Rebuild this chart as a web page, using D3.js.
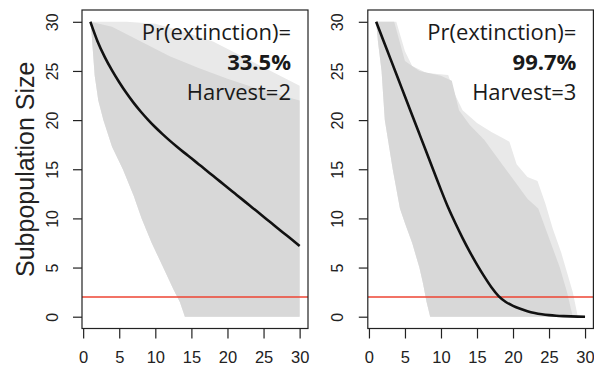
<!DOCTYPE html>
<html>
<head>
<meta charset="utf-8">
<script src="https://cdn.jsdelivr.net/npm/d3@7"></script>
<style>
  body { margin: 0; background: #fff; }
  svg { display: block; }
</style>
</head>
<body>
<div id="chart"></div>
<script>
// time steps of the simulation
const years = [1, 2, 3, 4, 5, 6, 7, 8, 9, 10, 11, 12, 13, 14, 15, 16, 17, 18, 19, 20, 21, 22, 23, 24, 25, 26, 27, 28, 29, 30];

// mean trajectories
const meanHarvest2 = [30, 28.0, 26.4, 25.05, 23.85, 22.75, 21.75, 20.85, 20.03, 19.27, 18.57, 17.91, 17.29, 16.69, 16.11, 15.52, 14.93, 14.33, 13.74, 13.14, 12.55, 11.96, 11.36, 10.77, 10.17, 9.58, 8.98, 8.39, 7.8, 7.2];
const meanHarvest3 = [30, 28.1, 26.2, 24.3, 22.4, 20.5, 18.6, 16.7, 14.8, 12.9, 11.1, 9.5, 8.0, 6.6, 5.3, 4.1, 3.0, 2.1, 1.5, 1.1, 0.8, 0.56, 0.38, 0.25, 0.16, 0.1, 0.06, 0.03, 0.01, 0];

// envelope of the simulated runs (grey cloud), harvest = 2
const outerTopT2 = [1, 6, 10, 14, 18, 22, 26, 30];
const outerTopV2 = [30, 30, 29.8, 29, 28, 26.5, 25, 23.5];
const coreTopT2 = [1, 4, 8, 12, 16, 20, 25, 30];
const coreTopV2 = [30, 29.5, 28, 26.5, 25.3, 24.2, 23, 22];
const bottomT2 = [1, 1.2, 1.6, 2.1, 2.8, 4, 5.5, 7, 8.1, 9.5, 11.1, 12.5, 13.4, 14.1, 30];
const bottomV2 = [30, 28.5, 24.5, 22, 20, 17.3, 15, 12.3, 10, 7.5, 5, 2.8, 1.5, 0, 0];

// envelope of the simulated runs (grey cloud), harvest = 3
const outerTopT3 = [1, 3.8, 5, 6, 8, 11, 12, 13, 15, 17, 18.5, 19.5, 20.5, 22, 23.4, 24.5, 25.5, 26.7, 27.5, 28.3, 29];
const outerTopV3 = [30, 30, 27, 25.5, 24.8, 24.6, 22.5, 21, 19.7, 18.8, 18.2, 17.8, 15.5, 14.2, 13.8, 11.5, 9, 6.5, 4.5, 2.5, 0];
const coreTopT3 = [1, 3.5, 5, 7, 10, 11.5, 12.5, 14, 16, 18, 20, 22, 23.5, 25, 26.5, 27.5, 28.3];
const coreTopV3 = [30, 30, 26, 25, 24.5, 24, 21, 19.5, 18, 16, 14, 12, 11, 8, 5, 2.5, 0];
const bottomT3 = [1, 1.25, 1.75, 2.2, 3.3, 4.3, 5, 6, 7, 7.5, 8, 8.5, 29];
const bottomV3 = [30, 28, 25, 20, 15, 11, 9.5, 7.5, 5, 3.4, 1.5, 0, 0];

const harvests = [2, 3];
const prExtinction = ['33.5%', '99.7%'];
const threshold = 2;
const xTicks = [0, 5, 10, 15, 20, 25, 30];
const yTicks = [0, 5, 10, 15, 20, 25, 30];

const panels = [
  { left: 82, right: 308, mean: meanHarvest2,
    outer: [outerTopT2, outerTopV2], core: [coreTopT2, coreTopV2], bottom: [bottomT2, bottomV2] },
  { left: 367.8, right: 593.4, mean: meanHarvest3,
    outer: [outerTopT3, outerTopV3], core: [coreTopT3, coreTopV3], bottom: [bottomT3, bottomV3] }
];

const W = 594, H = 367;
const plotTop = 10, plotBottom = 328.5;

const svg = d3.select('#chart').append('svg')
  .attr('width', W)
  .attr('height', H);

// y axis title
svg.append('text')
  .attr('transform', `translate(25,${(plotTop + plotBottom) / 2}) rotate(-90)`)
  .attr('text-anchor', 'middle')
  .attr('dy', '0.35em')
  .attr('font-family', 'Liberation Sans, Arial, sans-serif')
  .attr('font-size', '25px')
  .attr('fill', '#222')
  .text('Subpopulation Size');

panels.forEach((p, i) => {
  const x = d3.scaleLinear().domain([-0.16, 31.16]).range([p.left, p.right]);
  const y = d3.scaleLinear().domain([-1.2, 31.2]).range([plotBottom, plotTop]);

  const g = svg.append('g');
  const clipId = 'clip' + i;
  g.append('clipPath').attr('id', clipId)
    .append('rect')
    .attr('x', p.left).attr('y', plotTop)
    .attr('width', p.right - p.left).attr('height', plotBottom - plotTop);

  const plot = g.append('g').attr('clip-path', `url(#${clipId})`);

  // polygon: top edge forward, bottom edge backward
  const poly = (topArr, botArr) => {
    const pts = topArr[0].map((t, k) => [x(t), y(topArr[1][k])]);
    const back = botArr[0].map((t, k) => [x(t), y(botArr[1][k])]).reverse();
    return d3.line()(pts.concat(back)) + 'Z';
  };

  plot.append('path')
    .attr('d', poly(p.outer, p.bottom))
    .attr('fill', '#e9e9e9');
  plot.append('path')
    .attr('d', poly(p.core, p.bottom))
    .attr('fill', '#d8d8d8');

  // extinction threshold
  plot.append('line')
    .attr('x1', p.left).attr('x2', p.right)
    .attr('y1', y(threshold)).attr('y2', y(threshold))
    .attr('stroke', '#ee4433')
    .attr('stroke-width', 1.4);

  // mean trajectory
  plot.append('path')
    .datum(p.mean)
    .attr('d', d3.line()
      .x((d, k) => x(years[k]))
      .y(d => y(d))
      .curve(d3.curveMonotoneX))
    .attr('fill', 'none')
    .attr('stroke', '#111')
    .attr('stroke-width', 2.6);

  // box
  g.append('rect')
    .attr('x', p.left).attr('y', plotTop)
    .attr('width', p.right - p.left).attr('height', plotBottom - plotTop)
    .attr('fill', 'none')
    .attr('stroke', '#222')
    .attr('stroke-width', 1.2);

  // x axis
  const xAxis = g.append('g')
    .attr('transform', `translate(0,${plotBottom})`)
    .call(d3.axisBottom(x).tickValues(xTicks).tickSize(10).tickSizeOuter(0).tickPadding(13));
  xAxis.select('.domain').remove();
  xAxis.selectAll('.tick line').attr('stroke', '#222').attr('stroke-width', 1.2);
  xAxis.selectAll('.tick text')
    .attr('font-family', 'Liberation Sans, Arial, sans-serif')
    .attr('font-size', '16.5px')
    .attr('fill', '#222');

  // y axis, labels turned like base R
  const yAxis = g.append('g')
    .attr('transform', `translate(${p.left},0)`)
    .call(d3.axisLeft(y).tickValues(yTicks).tickSize(9).tickSizeOuter(0));
  yAxis.select('.domain').remove();
  yAxis.selectAll('.tick line').attr('stroke', '#222').attr('stroke-width', 1.2);
  yAxis.selectAll('.tick text')
    .attr('transform', 'rotate(-90)')
    .attr('x', 0)
    .attr('y', -30)
    .attr('dy', '0.35em')
    .attr('text-anchor', 'middle')
    .attr('font-family', 'Liberation Sans, Arial, sans-serif')
    .attr('font-size', '16px')
    .attr('fill', '#222');

  // annotation
  const tx = p.right - 17;
  const note = g.append('g')
    .attr('font-family', 'Open Sans, sans-serif')
    .attr('font-size', '22px')
    .attr('fill', '#1a1a1a')
    .attr('text-anchor', 'end');
  note.append('text').attr('x', tx).attr('y', 40).text('Pr(extinction)=');
  note.append('text').attr('x', tx).attr('y', 70).attr('font-weight', 'bold').text(prExtinction[i]);
  note.append('text').attr('x', tx).attr('y', 100).text('Harvest=' + harvests[i]);
});
</script>
</body>
</html>
